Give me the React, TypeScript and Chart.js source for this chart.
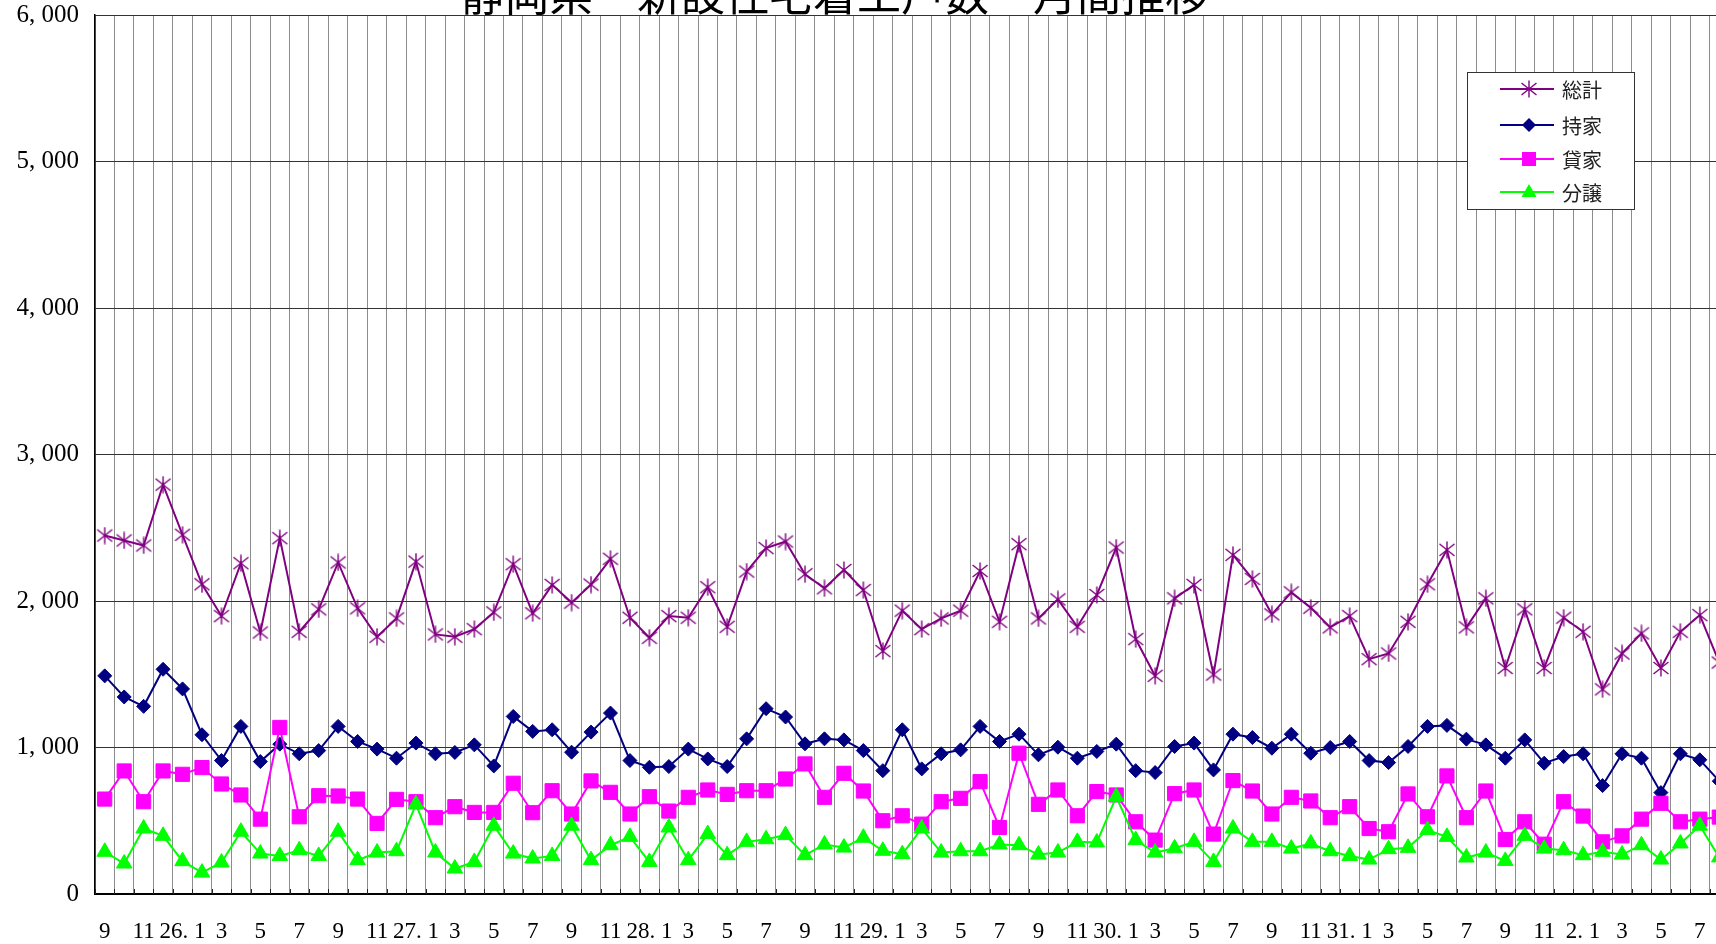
import React, { useEffect, useRef } from 'react';
import { Chart, registerables } from 'chart.js';

Chart.register(...registerables);

const titleText = '静岡県　新設住宅着工戸数　月間推移';

const categories = [
  '9', '10', '11', '12',
  '26. 1', '2', '3', '4', '5', '6', '7', '8', '9', '10', '11', '12',
  '27. 1', '2', '3', '4', '5', '6', '7', '8', '9', '10', '11', '12',
  '28. 1', '2', '3', '4', '5', '6', '7', '8', '9', '10', '11', '12',
  '29. 1', '2', '3', '4', '5', '6', '7', '8', '9', '10', '11', '12',
  '30. 1', '2', '3', '4', '5', '6', '7', '8', '9', '10', '11', '12',
  '31. 1', '2', '3', '4', '5', '6', '7', '8', '9', '10', '11', '12',
  '2. 1', '2', '3', '4', '5', '6', '7', '8',
];

const seriesNames = ['総計', '持家', '貸家', '分譲'];

const totalSeries = [
  2447, 2413, 2379, 2794, 2452, 2114, 1897, 2258, 1785, 2429,
  1790, 1943, 2263, 1950, 1756, 1881, 2269, 1772, 1756, 1808,
  1922, 2251, 1916, 2110, 1989, 2112, 2288, 1886, 1749, 1897,
  1886, 2094, 1824, 2201, 2361, 2406, 2183, 2087, 2212, 2075,
  1658, 1934, 1808, 1881, 1934, 2205, 1858, 2388, 1881, 2011,
  1824, 2041, 2365, 1740, 1489, 2018, 2110, 1498, 2315, 2151,
  1909, 2059, 1954, 1820, 1897, 1603, 1642, 1858, 2114, 2349,
  1820, 2018, 1543, 1943, 1543, 1886, 1790, 1397, 1642, 1779,
  1543, 1790, 1904, 1580,
];

const ownerSeries = [
  1489, 1345, 1281, 1534, 1400, 1087, 911, 1144, 904, 1023,
  957, 979, 1144, 1041, 989, 927, 1030, 957, 966, 1018,
  874, 1212, 1110, 1121, 968, 1105, 1235, 911, 865, 870,
  989, 922, 870, 1059, 1265, 1208, 1025, 1059, 1052, 979,
  842, 1121, 854, 957, 984, 1144, 1041, 1091, 950, 1002,
  927, 973, 1023, 842, 829, 1007, 1030, 847, 1091, 1068,
  995, 1091, 961, 1000, 1041, 911, 897, 1007, 1144, 1151,
  1057, 1018, 927, 1052, 893, 938, 957, 740, 957, 927,
  692, 957, 916, 770,
];

const rentalSeries = [
  648, 840, 630, 840, 817, 863, 751, 676, 511, 1137,
  527, 671, 669, 648, 482, 646, 630, 521, 596, 557,
  557, 756, 555, 705, 546, 772, 694, 546, 664, 566,
  660, 710, 680, 705, 705, 785, 888, 660, 824, 703,
  500, 534, 477, 630, 653, 767, 454, 961, 612, 710,
  534, 699, 676, 493, 368, 685, 710, 409, 774, 703,
  546, 660, 635, 521, 596, 447, 425, 683, 527, 806,
  521, 703, 372, 493, 340, 630, 532, 356, 397, 511,
  619, 493, 511, 525,
];

const condoSeries = [
  288, 208, 447, 397, 224, 146, 215, 425, 276, 260,
  299, 260, 425, 231, 283, 292, 612, 283, 174, 219,
  466, 276, 242, 260, 466, 231, 333, 390, 219, 454,
  231, 409, 265, 356, 374, 402, 265, 338, 317, 384,
  295, 272, 447, 283, 292, 292, 338, 333, 269, 283,
  356, 352, 664, 368, 283, 312, 356, 219, 447, 356,
  356, 310, 345, 292, 260, 235, 306, 315, 436, 390,
  249, 283, 226, 397, 310, 299, 265, 288, 269, 333,
  235, 345, 466, 250,
];

const yTicks = [0, 1000, 2000, 3000, 4000, 5000, 6000];

const colors = ['#800080', '#000080', '#FF00FF', '#00FF00'];

function fmt(v: number): string {
  if (v === 0) return '0';
  const th = Math.floor(v / 1000);
  const rest = String(v % 1000).padStart(3, '0');
  return `${th}, ${rest}`;
}

function makeStar(color: string): HTMLCanvasElement {
  const c = document.createElement('canvas');
  c.width = 18;
  c.height = 18;
  const ctx = c.getContext('2d')!;
  ctx.strokeStyle = color;
  ctx.lineWidth = 1.4;
  ctx.beginPath();
  ctx.moveTo(9, 0.5);
  ctx.lineTo(9, 17.5);
  ctx.moveTo(1.5, 3);
  ctx.lineTo(16.5, 15);
  ctx.moveTo(16.5, 3);
  ctx.lineTo(1.5, 15);
  ctx.stroke();
  return c;
}

function drawMarker(ctx: CanvasRenderingContext2D, kind: string, x: number, y: number, color: string, star: HTMLCanvasElement) {
  ctx.save();
  ctx.fillStyle = color;
  if (kind === 'star') {
    ctx.drawImage(star, x - 9, y - 9);
  } else if (kind === 'diamond') {
    ctx.beginPath();
    ctx.moveTo(x, y - 7);
    ctx.lineTo(x + 7, y);
    ctx.lineTo(x, y + 7);
    ctx.lineTo(x - 7, y);
    ctx.closePath();
    ctx.fill();
  } else if (kind === 'square') {
    ctx.fillRect(x - 7, y - 7, 14, 14);
  } else if (kind === 'triangle') {
    ctx.beginPath();
    ctx.moveTo(x, y - 8);
    ctx.lineTo(x + 7.5, y + 5);
    ctx.lineTo(x - 7.5, y + 5);
    ctx.closePath();
    ctx.fill();
  }
  ctx.restore();
}

export default function App() {
  const ref = useRef<HTMLCanvasElement | null>(null);

  useEffect(() => {
    if (!ref.current) return;
    const star = makeStar(colors[0]);
    const markerKinds = ['star', 'diamond', 'square', 'triangle'];

    const titlePlugin = {
      id: 'cutTitle',
      afterDraw(chart: any) {
        const ctx = chart.ctx as CanvasRenderingContext2D;
        ctx.save();
        ctx.font = '44px "Noto Sans CJK JP"';
        ctx.fillStyle = '#000';
        ctx.textAlign = 'center';
        ctx.textBaseline = 'alphabetic';
        ctx.fillText(titleText, 835, 11);
        ctx.restore();
      },
    };

    const tickPlugin = {
      id: 'innerTicks',
      beforeDatasetsDraw(chart: any) {
        const ctx = chart.ctx as CanvasRenderingContext2D;
        const a = chart.chartArea;
        const n = categories.length;
        const w = (a.right - a.left) / n;
        ctx.save();
        ctx.strokeStyle = '#222';
        ctx.lineWidth = 1;
        ctx.beginPath();
        for (let i = 0; i <= n; i++) {
          const x = Math.round(a.left + i * w) + 0.5;
          ctx.moveTo(x, a.bottom);
          ctx.lineTo(x, a.bottom - 5);
        }
        ctx.stroke();
        ctx.restore();
      },
    };

    const legendPlugin = {
      id: 'boxLegend',
      afterDraw(chart: any) {
        const ctx = chart.ctx as CanvasRenderingContext2D;
        const bx = 1467, by = 72, bw = 167, bh = 137;
        ctx.save();
        ctx.fillStyle = '#fff';
        ctx.fillRect(bx, by, bw, bh);
        ctx.strokeStyle = '#333';
        ctx.lineWidth = 1;
        ctx.strokeRect(bx + 0.5, by + 0.5, bw, bh);
        const rows = [89, 125, 159, 192];
        seriesNames.forEach((name, i) => {
          const y = rows[i];
          ctx.strokeStyle = colors[i];
          ctx.lineWidth = 2;
          ctx.beginPath();
          ctx.moveTo(1500, y);
          ctx.lineTo(1554, y);
          ctx.stroke();
          drawMarker(ctx, markerKinds[i], 1529, y, colors[i], star);
          ctx.fillStyle = '#222';
          ctx.font = '20px "Noto Sans CJK JP"';
          ctx.textAlign = 'left';
          ctx.textBaseline = 'middle';
          ctx.fillText(name, 1562, y + 1);
        });
        ctx.restore();
      },
    };

    const seriesValues = [totalSeries, ownerSeries, rentalSeries, condoSeries];
    const pointStyles: any[] = [star, 'rectRot', 'rect', 'triangle'];
    const pointRadii = [9, 7, 10, 9];

    const chart = new Chart(ref.current, {
      type: 'line',
      data: {
        labels: categories,
        datasets: seriesNames.map((name, i) => ({
          label: name,
          data: seriesValues[i],
          borderColor: colors[i],
          backgroundColor: colors[i],
          borderWidth: 2,
          tension: 0,
          pointStyle: pointStyles[i],
          pointRadius: pointRadii[i],
          pointBackgroundColor: colors[i],
          pointBorderColor: colors[i],
          pointBorderWidth: 1,
          order: 4 - i,
        })),
      },
      options: {
        responsive: false,
        animation: false,
        events: [],
        layout: { padding: { left: 0, right: 10, top: 15, bottom: 0 } },
        plugins: {
          legend: { display: false },
          title: { display: false },
          tooltip: { enabled: false },
        },
        scales: {
          x: {
            type: 'category',
            offset: true,
            grid: {
              offset: true,
              color: '#8c8c8c',
              lineWidth: 1,
              drawTicks: false,
            },
            border: { display: true, color: '#000', width: 2 },
            ticks: {
              autoSkip: false,
              maxRotation: 0,
              minRotation: 0,
              padding: 24,
              color: '#000',
              font: { family: '"Liberation Serif", serif', size: 23 },
              callback: (_v: any, index: number) => (index % 2 === 0 ? categories[index] : ''),
            },
            afterFit: (scale: any) => {
              scale.height = 50;
              scale.paddingLeft = 0;
              scale.paddingRight = 0;
            },
          },
          y: {
            min: 0,
            max: 6000,
            afterBuildTicks: (scale: any) => {
              scale.ticks = yTicks.map((v) => ({ value: v }));
            },
            grid: {
              color: '#333',
              lineWidth: 1,
              drawTicks: false,
            },
            border: { display: true, color: '#000', width: 1.5 },
            ticks: {
              padding: 16,
              color: '#000',
              font: { family: '"Liberation Serif", serif', size: 25 },
              callback: (v: any) => fmt(Number(v)),
            },
            afterFit: (scale: any) => {
              scale.width = 95;
              scale.paddingTop = 0;
              scale.paddingBottom = 0;
            },
          },
        },
      },
      plugins: [tickPlugin, legendPlugin, titlePlugin],
    });

    return () => {
      chart.destroy();
    };
  }, []);

  return (
    <div
      style={{
        position: 'fixed',
        left: 0,
        top: 0,
        width: 1716,
        height: 944,
        overflow: 'hidden',
        background: '#fff',
      }}
    >
      <canvas ref={ref} width={1740} height={944} style={{ position: 'absolute', left: 0, top: 0 }} />
    </div>
  );
}
